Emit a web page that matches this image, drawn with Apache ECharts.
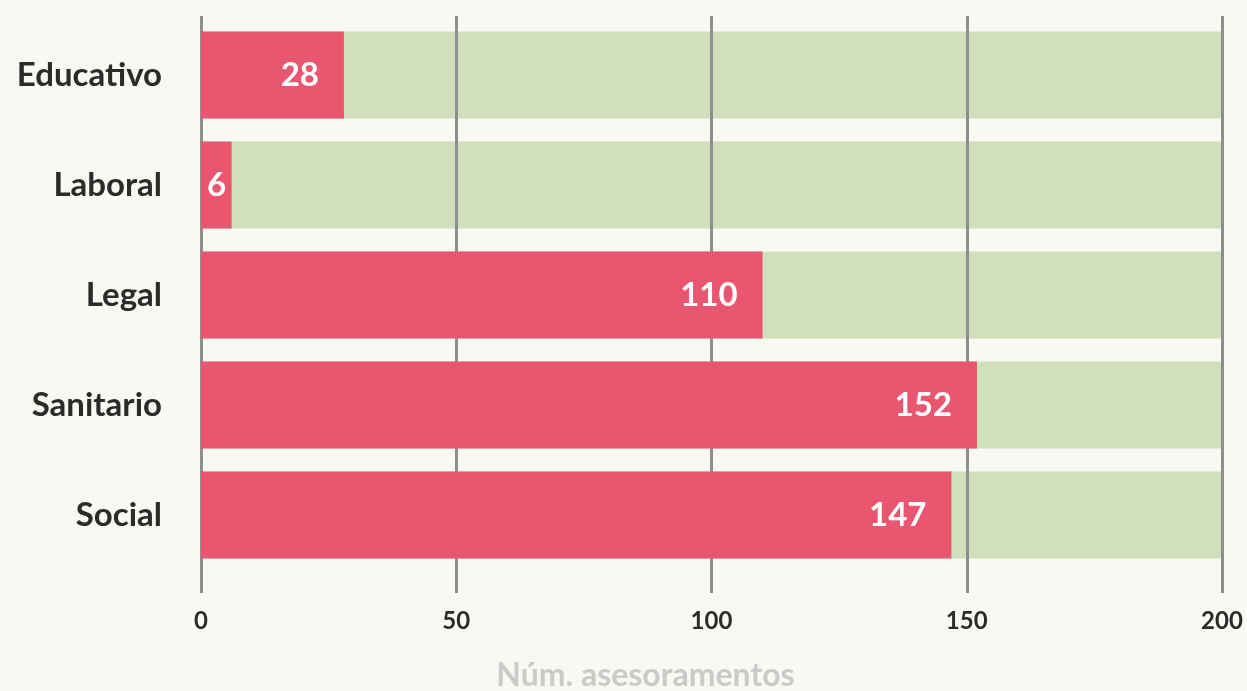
<!DOCTYPE html>
<html>
<head>
<meta charset="utf-8">
<script src="https://cdn.jsdelivr.net/npm/echarts@6/dist/echarts.min.js"></script>
<style>
  html, body { margin: 0; padding: 0; background: #f7f9f2; }
  #chart { width: 1247px; height: 691px; }
</style>
</head>
<body>
<div id="chart"></div>
<script>
"use strict";

// categorias (de arriba a abajo)
var categories = ['Educativo', 'Laboral', 'Legal', 'Sanitario', 'Social'];
var values = [28, 6, 110, 152, 147];
var maxValue = 200;
var xTicks = [0, 50, 100, 150, 200];

var FONT = 'Lato';
var gridColor = '#8e8e8e';

var myChart = echarts.init(document.getElementById('chart'));

// barras rojas, la etiqueta va a la izquierda si la barra es muy corta
var redData = values.map(function (v) {
    if (v < 15) {
        return { value: v, label: { position: 'insideLeft', distance: 6 } };
    }
    return v;
});
var bgData = categories.map(function () { return maxValue; });

var option = {
    backgroundColor: '#f7f9f2',
    animation: false,
    grid: {
        left: 201, right: 25, top: 20, bottom: 121,
        containLabel: false,
        outerBoundsMode: 'none'
    },
    xAxis: [{
        type: 'value',
        min: xTicks[0],
        max: xTicks[xTicks.length - 1],
        interval: 50,
        position: 'bottom',
        axisLine: { show: false },
        axisTick: { show: true, length: 23, lineStyle: { color: gridColor, width: 3 } },
        splitLine: { show: true, lineStyle: { color: gridColor, width: 3 } },
        axisLabel: {
            margin: 39,
            color: '#2b2b2b',
            fontFamily: FONT,
            fontWeight: 'bold',
            fontSize: 24
        },
        name: 'Núm. asesoramentos',
        nameLocation: 'middle',
        nameGap: 90,
        nameTextStyle: {
            color: '#c9cbcb',
            fontFamily: FONT,
            fontWeight: 'bold',
            fontSize: 32,
            padding: [0, 132, 0, 0]
        }
    }, {
        type: 'value',
        min: 0,
        max: maxValue,
        interval: 50,
        position: 'top',
        axisLine: { show: false },
        axisTick: { show: true, length: 4, lineStyle: { color: gridColor, width: 3 } },
        splitLine: { show: false },
        axisLabel: { show: false }
    }],
    yAxis: {
        type: 'category',
        data: categories,
        inverse: true,
        axisLine: { show: false },
        axisTick: { show: false },
        axisLabel: {
            margin: 39,
            color: '#2b2b2b',
            fontFamily: FONT,
            fontWeight: 'bold',
            fontSize: 33
        }
    },
    series: [{
        name: 'fondo',
        type: 'bar',
        data: bgData,
        barWidth: '79%',
        barGap: '-100%',
        z: -1,
        silent: true,
        itemStyle: { color: '#d1dfbc' }
    }, {
        name: 'asesoramentos',
        type: 'bar',
        data: redData,
        barWidth: '79%',
        z: 3,
        itemStyle: { color: '#e95670' },
        label: {
            show: true,
            position: 'insideRight',
            distance: 25,
            color: '#ffffff',
            fontFamily: FONT,
            fontWeight: 'bold',
            fontSize: 33
        }
    }]
};

myChart.setOption(option);
</script>
</body>
</html>
